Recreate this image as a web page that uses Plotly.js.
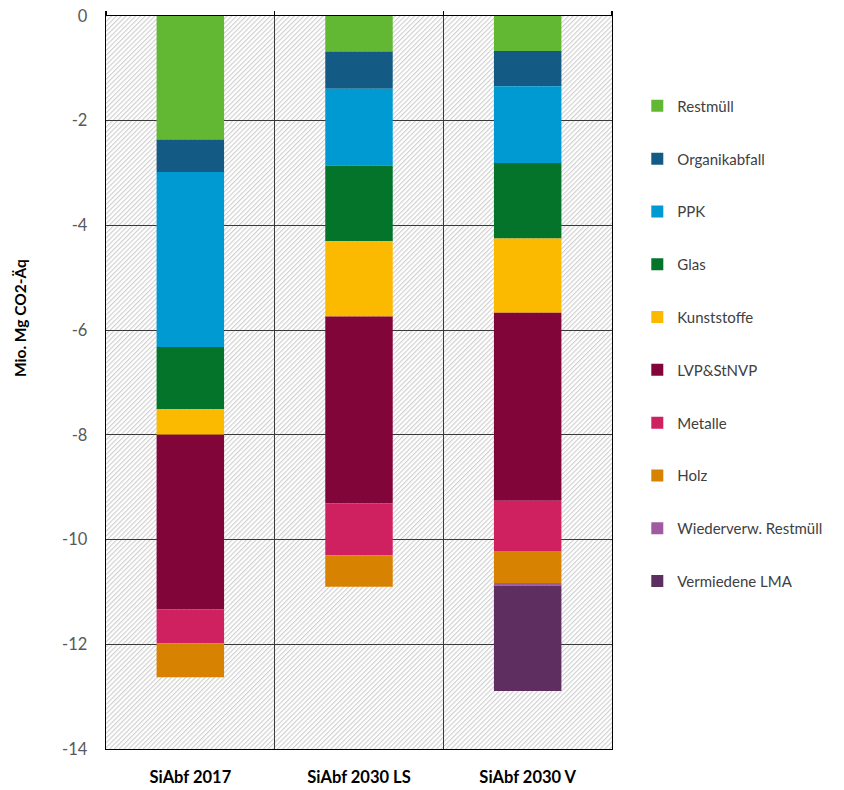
<!DOCTYPE html>
<html>
<head>
<meta charset="utf-8">
<script src="https://cdn.plot.ly/plotly-3.0.1.min.js"></script>
<style>
html,body{margin:0;padding:0;background:#fff;}
#chart{width:844px;height:790px;}
</style>
</head>
<body>
<div id="chart"></div>
<script>
// ---- data ----
const categories = ["SiAbf 2017", "SiAbf 2030 LS", "SiAbf 2030 V"];
const seriesNames = ["Restmüll", "Organikabfall", "PPK", "Glas", "Kunststoffe", "LVP&StNVP", "Metalle", "Holz", "Wiederverw. Restmüll", "Vermiedene LMA"];
const restmuell      = [-2.36, -0.68, -0.67];
const organikabfall  = [-0.62, -0.71, -0.67];
const ppk            = [-3.34, -1.47, -1.47];
const glas           = [-1.19, -1.44, -1.44];
const kunststoffe    = [-0.49, -1.44, -1.42];
const lvp            = [-3.33, -3.57, -3.59];
const metalle        = [-0.65, -0.99, -0.96];
const holz           = [-0.65, -0.60, -0.61];
const wiederverw     = [0, 0, -0.05];
const vermiedeneLMA  = [0, 0, -2.01];
const yTickVals = [0, -2, -4, -6, -8, -10, -12, -14];
const yTickText = ["0", "-2", "-4", "-6", "-8", "-10", "-12", "-14"];
const yTitle = "Mio. Mg CO2-Äq";

const seriesValues = [restmuell, organikabfall, ppk, glas, kunststoffe, lvp, metalle, holz, wiederverw, vermiedeneLMA];
const colors = ["#62B733", "#135B85", "#009AD2", "#03742A", "#FBBA00", "#82053A", "#CF215F", "#D78200", "#A05A9F", "#5E2E60"];

const traces = seriesNames.map((name, i) => ({
  type: "bar",
  name: name,
  x: categories,
  y: seriesValues[i],
  marker: {color: colors[i], line: {width: 0}},
  legendgroup: "g" + i,
  hoverinfo: "name+y"
}));
// helper trace for top-axis tick marks (no visible marks)
traces.push({type: "scatter", mode: "markers", x: categories, y: categories.map(() => null), xaxis: "x2", yaxis: "y", showlegend: false, hoverinfo: "skip"});

// hatched plot background
const W = 506, H = 733;
const svg = `<svg xmlns="http://www.w3.org/2000/svg" width="${W}" height="${H}"><defs><pattern id="p" width="3.4" height="3.4" patternUnits="userSpaceOnUse" patternTransform="rotate(45)"><rect width="3.4" height="3.4" fill="#ffffff"/><line x1="0.6" y1="0" x2="0.6" y2="3.4" stroke="#c9c9c9" stroke-width="1"/></pattern></defs><rect width="${W}" height="${H}" fill="url(#p)"/></svg>`;
const hatch = "data:image/svg+xml;base64," + btoa(svg);

const layout = {
  width: 844, height: 790,
  margin: {l: 106, r: 232, t: 16, b: 41, autoexpand: false},
  paper_bgcolor: "#ffffff",
  plot_bgcolor: "rgba(0,0,0,0)",
  barmode: "relative",
  bargap: 0.6,
  font: {family: "Lato, 'Open Sans', sans-serif", size: 15, color: "#404040"},
  images: [{source: hatch, xref: "paper", yref: "paper", x: 0, y: 1, sizex: 1, sizey: 1, sizing: "stretch", xanchor: "left", yanchor: "top", layer: "below"}],
  xaxis: {
    type: "category",
    tickson: "boundaries",
    showgrid: true, gridcolor: "#3a3a3a", gridwidth: 1,
    showline: true, mirror: true, linecolor: "#000000", linewidth: 1.3,
    ticks: "",
    ticklabelstandoff: 13,
    tickfont: {family: "Lato, sans-serif", size: 16.5, color: "#000000", weight: "bold"},
    automargin: false,
    fixedrange: true
  },
  xaxis2: {
    type: "category", overlaying: "x", matches: "x", side: "top", anchor: "y",
    tickson: "boundaries", ticks: "outside", ticklen: 4, tickcolor: "#000000", tickwidth: 1.3,
    showticklabels: false, showgrid: false, showline: false, automargin: false
  },
  yaxis: {
    range: [-14, 0],
    tickvals: yTickVals, ticktext: yTickText,
    showgrid: true, gridcolor: "#3a3a3a", gridwidth: 1,
    zeroline: false,
    showline: true, mirror: true, linecolor: "#000000", linewidth: 1.3,
    ticks: "",
    ticklabelstandoff: 14,
    tickfont: {family: "Lato, sans-serif", size: 16.5, color: "#595959"},
    automargin: false,
    fixedrange: true
  },
  annotations: [{
    text: yTitle, textangle: -90, showarrow: false,
    xref: "paper", yref: "paper", x: -0.17, y: 0.588, xanchor: "center", yanchor: "middle",
    font: {family: "Lato, sans-serif", size: 15.5, color: "#000000", weight: "bold"}
  }],
  legend: {
    x: 1.05, xanchor: "left", y: 0.8996, yanchor: "top",
    traceorder: "grouped", tracegroupgap: 30.3,
    itemwidth: 30,
    font: {family: "Lato, sans-serif", size: 15, color: "#404040"},
    bgcolor: "rgba(0,0,0,0)"
  },
  showlegend: true
};

Plotly.newPlot("chart", traces, layout, {displayModeBar: false, staticPlot: true});
</script>
</body>
</html>
